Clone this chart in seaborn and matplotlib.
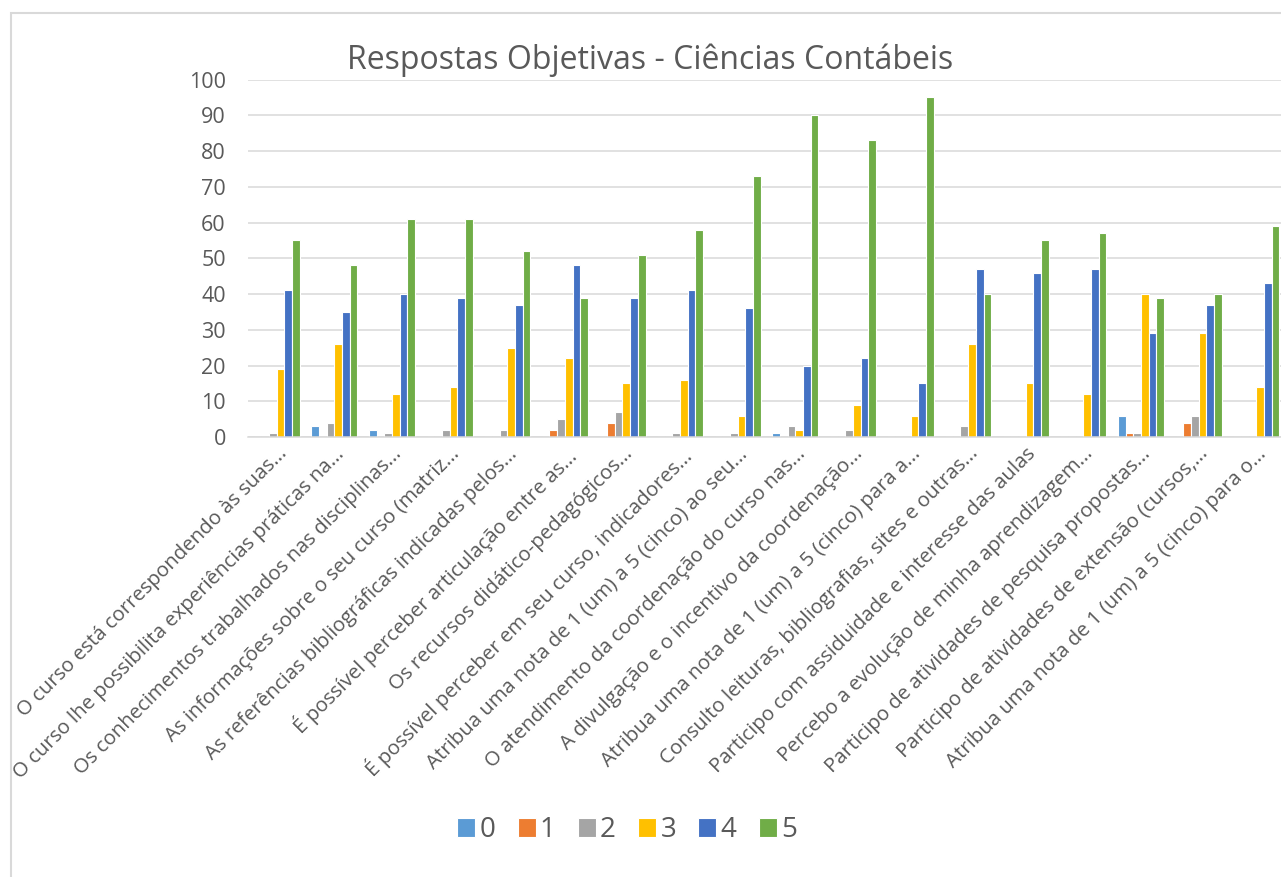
import pandas as pd
import seaborn as sns
import matplotlib.pyplot as plt
from matplotlib.patches import Rectangle

perguntas = [
    "O curso está correspondendo às suas...",
    "O curso lhe possibilita experiências práticas na...",
    "Os conhecimentos trabalhados nas disciplinas...",
    "As informações sobre o seu curso (matriz...",
    "As referências bibliográficas indicadas pelos...",
    "É possível perceber articulação entre as...",
    "Os recursos didático-pedagógicos...",
    "É possível perceber em seu curso, indicadores...",
    "Atribua uma nota de 1 (um) a 5 (cinco) ao seu...",
    "O atendimento da coordenação do curso nas...",
    "A divulgação e o incentivo da coordenação...",
    "Atribua uma nota de 1 (um) a 5 (cinco) para a...",
    "Consulto leituras, bibliografias, sites e outras...",
    "Participo com assiduidade e interesse das aulas",
    "Percebo a evolução de minha aprendizagem...",
    "Participo de atividades de pesquisa propostas...",
    "Participo de atividades de extensão (cursos,...",
    "Atribua uma nota de 1 (um) a 5 (cinco) para o...",
]
notas = ["0", "1", "2", "3", "4", "5"]
nota0 = [0, 3, 2, 0, 0, 0, 0, 0, 0, 1, 0, 0, 0, 0, 0, 6, 0, 0]
nota1 = [0, 0, 0, 0, 0, 2, 4, 0, 0, 0, 0, 0, 0, 0, 0, 1, 4, 0]
nota2 = [1, 4, 1, 2, 2, 5, 7, 1, 1, 3, 2, 0, 3, 0, 0, 1, 6, 0]
nota3 = [19, 26, 12, 14, 25, 22, 15, 16, 6, 2, 9, 6, 26, 15, 12, 40, 29, 14]
nota4 = [41, 35, 40, 39, 37, 48, 39, 41, 36, 20, 22, 15, 47, 46, 47, 29, 37, 43]
nota5 = [55, 48, 61, 61, 52, 39, 51, 58, 73, 90, 83, 95, 40, 55, 57, 39, 40, 59]
cores = ["#5B9BD5", "#ED7D31", "#A5A5A5", "#FFC000", "#4472C4", "#70AD47"]

series = [nota0, nota1, nota2, nota3, nota4, nota5]
rows = []
for n, vals in zip(notas, series):
    for p, v in zip(perguntas, vals):
        rows.append({"pergunta": p, "nota": n, "qtd": v})
df = pd.DataFrame(rows)

sns.set_theme(style="white")
plt.rcParams["font.family"] = ["Open Sans", "DejaVu Sans"]
cinza = "#595959"

fig = plt.figure(figsize=(12.81, 8.77), dpi=100)
W, H = 1281, 877
ax = fig.add_axes([248 / W, 1 - 437 / H, 1037 / W, 357.5 / H])

sns.barplot(data=df, x="pergunta", y="qtd", hue="nota", order=perguntas,
            hue_order=notas, palette=cores, saturation=1, width=0.8,
            edgecolor="white", linewidth=0.8, ax=ax, legend=True)

ax.set_ylim(0, 100)
ax.set_yticks(range(0, 101, 10))
ax.set_xlim(-0.5, len(perguntas) - 0.5)
ax.yaxis.grid(True, color="#d9d9d9", linewidth=1.1)
ax.set_axisbelow(True)
ax.set_xlabel("")
ax.set_ylabel("")
sns.despine(ax=ax, left=True, right=True, top=True)
ax.spines["bottom"].set_color("#d9d9d9")
ax.spines["bottom"].set_linewidth(1.1)
ax.tick_params(axis="y", length=0, pad=16, labelsize=15.5, labelcolor=cinza)
ax.tick_params(axis="x", length=0, pad=5, labelsize=14.7, labelcolor=cinza)
for lab in ax.get_xticklabels():
    lab.set_rotation(45)
    lab.set_ha("right")
    lab.set_va("top")
    lab.set_rotation_mode("anchor")

fig.text(650 / W, 1 - 60 / H, "Respostas Objetivas - Ciências Contábeis",
         ha="center", va="center", fontsize=23, color=cinza)

handles, labels = ax.get_legend_handles_labels()
ax.legend_.remove()
fig.legend(handles, labels, loc="center", bbox_to_anchor=(627 / W, 1 - 830 / H),
           ncol=6, frameon=False, fontsize=20, handlelength=0.65,
           handleheight=0.65, handletextpad=0.15, columnspacing=0.8,
           labelcolor=cinza)

fig.patches.append(Rectangle((11 / W, -0.1), 1.2, 1 - 13 / H + 0.1,
                             transform=fig.transFigure, fill=False,
                             edgecolor="#d9d9d9", linewidth=1.5))

fig.savefig("out.png", dpi=100)
